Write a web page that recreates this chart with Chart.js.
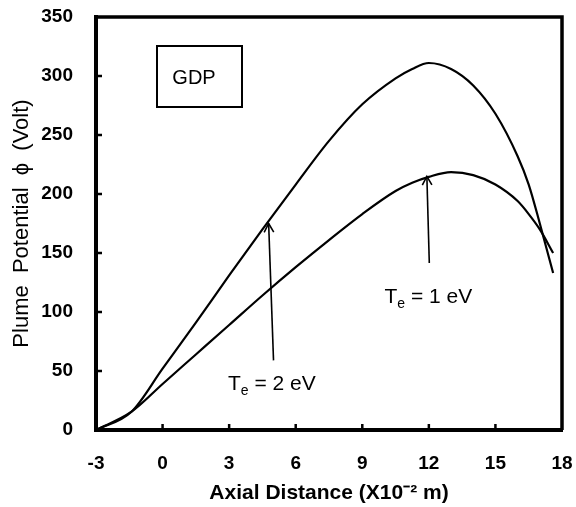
<!DOCTYPE html>
<html>
<head>
<meta charset="utf-8">
<script src="https://cdn.jsdelivr.net/npm/chart.js@4.4.1/dist/chart.umd.min.js"></script>
<style>
html,body{margin:0;padding:0;background:#fff;}
#wrap{width:576px;height:507px;}
</style>
</head>
<body>
<div id="wrap"><canvas id="c" width="576" height="507"></canvas></div>
<script>
// Te = 2 eV (upper curve)
const te2X = [-3, -1.4, 0, 1.5, 3, 4.5, 6, 7.5, 9, 10.5, 11.25, 12, 13, 14, 15, 16, 16.5, 17, 17.6];
const te2Y = [0, 15.5, 52, 91, 131, 170, 208, 245, 276, 298, 306, 311, 306, 292, 268, 232, 208, 175, 133];
// Te = 1 eV (lower curve)
const te1X = [-3, -1.4, 0, 1.5, 3, 4.5, 6, 7.5, 9, 10.5, 11.25, 12, 13, 14, 15, 16, 16.5, 17, 17.6];
const te1Y = [0, 15.5, 39, 64, 89, 114, 138, 161, 183, 202.5, 209.5, 214.5, 218.5, 216, 208, 194, 183, 170, 150];
const xTicks = [-3, 0, 3, 6, 9, 12, 15, 18];
const yTicks = [0, 50, 100, 150, 200, 250, 300, 350];

const FONT = "'Liberation Sans', Arial, sans-serif";

const toPts = (xs, ys) => xs.map((x, i) => ({x: x, y: ys[i]}));

const annotPlugin = {
  id: 'annot',
  afterDatasetsDraw(chart) {
    const ctx = chart.ctx;
    const xs = chart.scales.x, ys = chart.scales.y;
    const ca = chart.chartArea;
    ctx.save();
    // frame top & right
    ctx.strokeStyle = '#000';
    ctx.lineWidth = 3.5;
    ctx.beginPath();
    ctx.moveTo(ca.left, ca.top); ctx.lineTo(ca.right, ca.top); ctx.lineTo(ca.right, ca.bottom);
    ctx.stroke();
    // inward ticks
    ctx.lineWidth = 2.5;
    ctx.beginPath();
    yTicks.slice(1, -1).forEach(v => {
      const p = ys.getPixelForValue(v);
      ctx.moveTo(ca.left, p); ctx.lineTo(ca.left + 6, p);
    });
    xTicks.slice(1, -1).forEach(v => {
      const p = xs.getPixelForValue(v);
      ctx.moveTo(p, ca.bottom); ctx.lineTo(p, ca.bottom - 6);
    });
    ctx.stroke();
    // arrows
    const arrow = (x0, y0, x1, y1) => {
      const X0 = xs.getPixelForValue(x0), Y0 = ys.getPixelForValue(y0);
      const X1 = xs.getPixelForValue(x1), Y1 = ys.getPixelForValue(y1);
      ctx.lineWidth = 1.6;
      ctx.beginPath(); ctx.moveTo(X0, Y0); ctx.lineTo(X1, Y1); ctx.stroke();
      const a = Math.atan2(Y1 - Y0, X1 - X0), L = 10, w = 0.5;
      ctx.beginPath();
      ctx.moveTo(X1 - L * Math.cos(a - w), Y1 - L * Math.sin(a - w));
      ctx.lineTo(X1, Y1);
      ctx.lineTo(X1 - L * Math.cos(a + w), Y1 - L * Math.sin(a + w));
      ctx.stroke();
    };
    arrow(5.0, 59, 4.78, 175);
    arrow(12.02, 141.5, 11.91, 215);
    // labels with subscript
    const label = (x, y, num) => {
      const X = xs.getPixelForValue(x), Y = ys.getPixelForValue(y);
      ctx.fillStyle = '#000';
      ctx.textBaseline = 'alphabetic';
      ctx.textAlign = 'left';
      ctx.font = '21px ' + FONT;
      ctx.fillText('T', X, Y);
      let w = ctx.measureText('T').width;
      ctx.font = '14px ' + FONT;
      ctx.fillText('e', X + w, Y + 5);
      w += ctx.measureText('e').width;
      ctx.font = '21px ' + FONT;
      ctx.fillText(' = ' + num + ' eV', X + w, Y);
    };
    label(2.95, 33.9, '2');
    label(10.0, 108, '1');
    // GDP box
    ctx.lineWidth = 2;
    ctx.strokeRect(157, 46, 85, 61);
    ctx.font = '20px ' + FONT;
    ctx.textAlign = 'center';
    ctx.textBaseline = 'middle';
    ctx.fillText('GDP', 194, 78);
    ctx.restore();
  }
};

new Chart(document.getElementById('c'), {
  type: 'scatter',
  data: {
    datasets: [
      { label: 'Te = 2 eV', data: toPts(te2X, te2Y), showLine: true, borderColor: '#000', borderWidth: 2.2, pointRadius: 0, cubicInterpolationMode: 'monotone', fill: false },
      { label: 'Te = 1 eV', data: toPts(te1X, te1Y), showLine: true, borderColor: '#000', borderWidth: 2.2, pointRadius: 0, cubicInterpolationMode: 'monotone', fill: false }
    ]
  },
  options: {
    responsive: false,
    animation: false,
    devicePixelRatio: 1,
    layout: { padding: { top: 17, right: 14, bottom: 0, left: 0 } },
    plugins: { legend: { display: false }, tooltip: { enabled: false } },
    scales: {
      x: {
        type: 'linear', min: -3, max: 18,
        afterBuildTicks: s => { s.ticks = xTicks.map(v => ({value: v})); },
        afterFit: s => { s.height = 77; s.paddingLeft = 0; s.paddingRight = 0; },
        grid: { display: false, drawTicks: false },
        border: { display: true, color: '#000', width: 4 },
        ticks: { color: '#000', font: { family: FONT, size: 19, weight: 'bold' }, padding: 22, maxRotation: 0 },
        title: { display: true, text: 'Axial Distance (X10⁻² m)', color: '#000', font: { family: FONT, size: 21, weight: 'bold' }, padding: { top: 0, bottom: 1 } }
      },
      y: {
        type: 'linear', min: 0, max: 350,
        afterBuildTicks: s => { s.ticks = yTicks.map(v => ({value: v})); },
        afterFit: s => { s.width = 96; s.paddingTop = 0; s.paddingBottom = 0; },
        grid: { display: false, drawTicks: false },
        border: { display: true, color: '#000', width: 4 },
        ticks: { color: '#000', font: { family: FONT, size: 19, weight: 'bold' }, padding: 23 },
        title: { display: true, text: 'Plume  Potential  ϕ  (Volt)', color: '#000', font: { family: FONT, size: 22, weight: 'normal' }, padding: { top: 9, bottom: 0 } }
      }
    }
  },
  plugins: [annotPlugin]
});
</script>
</body>
</html>
